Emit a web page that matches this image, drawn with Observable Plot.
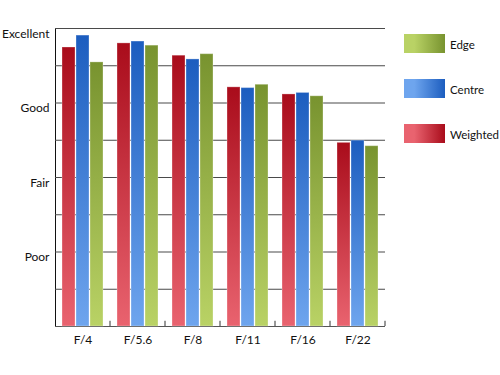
<!DOCTYPE html>
<html>
<head>
<meta charset="utf-8">
<script src="https://cdn.jsdelivr.net/npm/d3@7"></script>
<script src="https://cdn.jsdelivr.net/npm/@observablehq/plot@0.6"></script>
<style>
  body { margin: 0; background: #fff; }
  #wrap { position: relative; width: 500px; height: 375px; }
  .leg { position: absolute; font-family: Lato, "Liberation Sans", sans-serif; font-size: 11.5px; color: #111; }
  .sw { position: absolute; width: 41px; height: 19px; }
  .lt { position: absolute; white-space: nowrap; line-height: 19px; }
</style>
</head>
<body>
<div id="wrap"></div>
<script>
const apertures = ["F/4", "F/5.6", "F/8", "F/11", "F/16", "F/22"];
const series = ["Weighted", "Centre", "Edge"];
const weighted = [7.49, 7.60, 7.27, 6.42, 6.23, 4.93];
const centre   = [7.81, 7.65, 7.17, 6.40, 6.27, 4.99];
const edge     = [7.09, 7.54, 7.31, 6.49, 6.18, 4.84];
const yTicks = [2, 4, 6, 8];
const yLabels = ["Poor", "Fair", "Good", "Excellent"];
const gridValues = [1, 2, 3, 4, 5, 6, 7, 8];

const seriesValues = {Weighted: weighted, Centre: centre, Edge: edge};
const topColor = {Weighted: "#a90c1b", Centre: "#1c5dbf", Edge: "#78932f"};
const bottomColor = {Weighted: "#e9636f", Centre: "#6ea5ee", Edge: "#b9d265"};

const rows = [];
apertures.forEach((a, i) => series.forEach(s => rows.push({aperture: a, series: s, value: seriesValues[s][i]})));

const svg = Plot.plot({
  width: 500,
  height: 375,
  marginLeft: 54,
  marginRight: 115,
  marginTop: 28,
  marginBottom: 49,
  style: {fontFamily: "Lato, 'Liberation Sans', sans-serif", fontSize: "12px", color: "#111", background: "#fff"},
  facet: {data: rows, x: "aperture"},
  fx: {domain: apertures, padding: 0, axis: "bottom", label: null, tickSize: 0, tickPadding: 9},
  x: {domain: series, paddingInner: 0.1, paddingOuter: 0.45, axis: null},
  y: {domain: [0, 8], ticks: yTicks, tickFormat: d => yLabels[yTicks.indexOf(d)], tickSize: 0, tickPadding: 6, label: null, line: true},
  color: {type: "identity"},
  marks: [
    Plot.ruleY(gridValues, {stroke: "#4a4a4a", strokeWidth: 1.2}),
    Plot.ruleY([0], {stroke: "#555", strokeWidth: 1.2}),
    Plot.barY(rows, {x: "series", y: "value", fill: d => `url(#grad-${d.series})`, stroke: "white", strokeOpacity: 0.3, strokeWidth: 1}),
    Plot.ruleX(["Edge"], {x: d => d, y1: 0, y2: 0.14, dx: 13, stroke: "#333"})
  ]
});

// gradient definitions
const ns = "http://www.w3.org/2000/svg";
const defs = document.createElementNS(ns, "defs");
series.forEach(s => {
  const g = document.createElementNS(ns, "linearGradient");
  g.setAttribute("id", "grad-" + s);
  g.setAttribute("x1", "0"); g.setAttribute("y1", "0");
  g.setAttribute("x2", "0"); g.setAttribute("y2", "1");
  [[0, topColor[s]], [1, bottomColor[s]]].forEach(([o, c]) => {
    const st = document.createElementNS(ns, "stop");
    st.setAttribute("offset", o);
    st.setAttribute("stop-color", c);
    g.appendChild(st);
  });
  defs.appendChild(g);
});
svg.insertBefore(defs, svg.firstChild);

// y labels sit slightly below their gridlines in the reference
d3.select(svg).selectAll('g[aria-label^="y-axis"] text').attr("dy", "0.45em");

const wrap = document.getElementById("wrap");
wrap.appendChild(svg);

// legend (reverse order)
const legendOrder = series.slice().reverse();
legendOrder.forEach((s, i) => {
  const item = document.createElement("div");
  item.className = "leg";
  item.style.left = "404px";
  item.style.top = (34 + i * 45) + "px";
  const sw = document.createElement("div");
  sw.className = "sw";
  sw.style.left = "0px"; sw.style.top = "0px";
  sw.style.background = `linear-gradient(to right, ${bottomColor[s]} 0%, ${bottomColor[s]} 25%, ${topColor[s]} 100%)`;
  const t = document.createElement("div");
  t.className = "lt";
  t.style.left = "46px"; t.style.top = "1px";
  t.textContent = s;
  item.appendChild(sw); item.appendChild(t);
  wrap.appendChild(item);
});
</script>
</body>
</html>
